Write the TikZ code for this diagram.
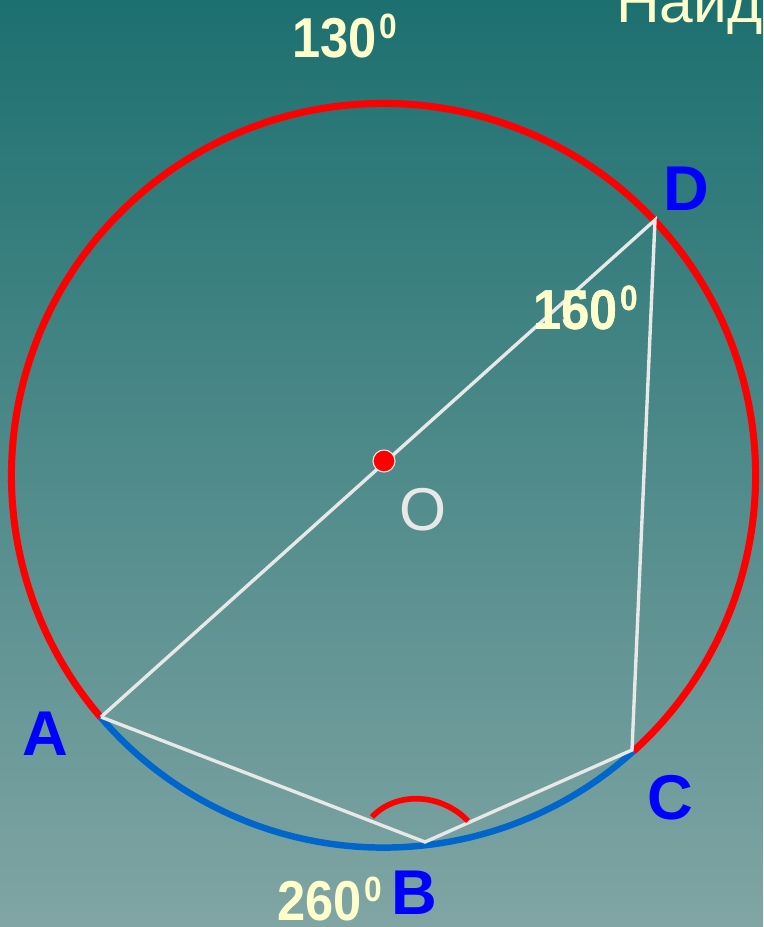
\documentclass[tikz,border=0pt]{standalone}
\usepackage{fontspec}
\setmainfont{Liberation Sans}
\definecolor{BgTop}{RGB}{29,112,112}
\definecolor{BgBottom}{RGB}{128,165,164}
\definecolor{ArcRed}{RGB}{255,0,0}
\definecolor{ArcBlue}{RGB}{0,102,204}
\definecolor{LabelBlue}{RGB}{0,0,255}
\definecolor{NumYellow}{RGB}{255,255,204}
\definecolor{ChordGray}{RGB}{232,232,232}
\usetikzlibrary{calc, positioning}
\newcommand{\arcval}[1]{#1\hspace{2pt}\raisebox{14pt}{\fontsize{25}{27}\selectfont 0}}

\begin{document}
\begin{tikzpicture}[x=0.025cm,y=0.025cm,
  chord/.style={ChordGray, line width=2.4pt},
  redarc/.style={ArcRed, line width=5pt},
  bluearc/.style={ArcBlue, line width=4.6pt},
  ptlabel/.style={LabelBlue, font=\fontsize{45}{54}\selectfont\bfseries, inner sep=0pt},
  arclabel/.style={NumYellow, font=\fontsize{40}{48}\selectfont\bfseries, inner sep=0pt, anchor=base west, xscale=0.9}]
  \shade[top color=BgTop, bottom color=BgBottom] (0,0) rectangle (763,927);
  \useasboundingbox (0,0) rectangle (763,927);

  \coordinate (ctrO) at (383.5,451.5);
  \coordinate (A) at (101,210);
  \coordinate (B) at (425,85);
  \coordinate (C) at (632,177);
  \coordinate (D) at (655,707);

  \draw[redarc] ($(ctrO)+(-47.8:9.3cm)$) arc[start angle=-47.8, end angle=220.5, radius=9.3cm];
  \draw[bluearc] ($(ctrO)+(220.5:9.3cm)$) arc[start angle=220.5, end angle=312.2, radius=9.3cm];

  \draw[chord] (A) -- (D) -- (C) -- (B) -- (A);
  \draw[ArcRed, line width=4pt] (372,110) .. controls (395,135) and (440,135) .. (468,106);

  \node[circle, fill=ArcRed, draw=ChordGray, line width=0.8pt, minimum size=0.55cm, inner sep=0pt] (dotO) at (384,466) {};

  \foreach \p/\x/\y in {A/45.5/193.5, B/414/34, C/670/129, D/686.5/738}
    \node[ptlabel] (lbl\p) at (\x,\y) {\p};
  \node[ChordGray, font=\fontsize{43}{52}\selectfont, inner sep=0pt] (lblO) at (423,417.5) {O};

  \node[arclabel] (arcTop) at (292,869) {\arcval{130}};
  \node[arclabel] (arcBot) at (277,6) {\arcval{260}};
  \node[arclabel] (arcD) at (533,597) {\arcval{150}};
  \node[arclabel] (arcDb) at (533,597) {\arcval{160}};

  \node[NumYellow, font=\fontsize{43}{50}\selectfont, inner sep=0pt, anchor=base west] (task) at (616,904) {Найд};
\end{tikzpicture}
\end{document}
